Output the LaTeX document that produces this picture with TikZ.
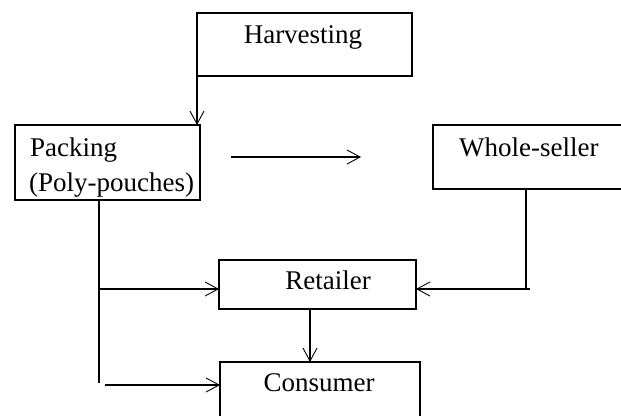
\documentclass[tikz,border=0pt]{standalone}
\usepackage{fontspec}
\setmainfont{Liberation Serif}
\usetikzlibrary{arrows.meta,positioning}

\tikzset{
    box/.style={draw, line width=2.3pt, inner sep=0pt, outer sep=0pt},
    lbl/.style={anchor=base, inner sep=0pt, font=\fontsize{27}{32}\selectfont},
    flow/.style={line width=1.9pt, -{Straight Barb[length=13pt,width=14pt,line width=0.9pt]}}
}

\begin{document}
\begin{tikzpicture}[x=1pt,y=-1pt]
            \useasboundingbox (0,0) rectangle (621,415);

            % boxes
            \node[box,minimum width=215pt,minimum height=63pt] (hv) at (304.5,44.5) {};
            \node[box,minimum width=185pt,minimum height=75pt] (pk) at (107.5,162.5) {};
            \node[box,minimum width=194pt,minimum height=64pt] (ws) at (530,157) {};
            \node[box,minimum width=197pt,minimum height=49pt] (rt) at (317.5,284.5) {};
            \node[box,minimum width=200pt,minimum height=70pt] (cs) at (320,397) {};

            % texts
            \node[lbl] (hvt) at (303,43) {Harvesting};
            \node[lbl,anchor=base west] (pkt) at (30,156) {Packing};
            \node[lbl,anchor=base west] (ppt) at (29,191) {(Poly-pouches)};
            \node[lbl,anchor=base west] (wst) at (459,156) {Whole-seller};
            \node[lbl] (rtt) at (328,289) {Retailer};
            \node[lbl] (cst) at (319,391) {Consumer};

            \coordinate (m1) at (231,157);
            \coordinate (m2) at (361,157);
            \coordinate (ws1) at (526,189);
            \coordinate (ws2) at (530,289);
            \coordinate (t1) at (99,200);
            \coordinate (t2) at (99,383);
            \coordinate (b1) at (105,385);

            \draw[flow] (hv.south west) to (hv.south west |- pk.north);
            \draw[flow] (m1) to (m2);
            \draw[line width=1.9pt] (ws1) to (ws1 |- ws2) to (ws2);
            \draw[flow] (ws2) to (rt.east |- ws2);
            \draw[line width=1.9pt] (t1) to (t2);
            \draw[flow] (t1 |- ws2) to (rt.west |- ws2);
            \draw[flow] (b1) to (cs.west |- b1);
            \draw[flow] (310,309) to (310,362);
        \end{tikzpicture}
\end{document}
